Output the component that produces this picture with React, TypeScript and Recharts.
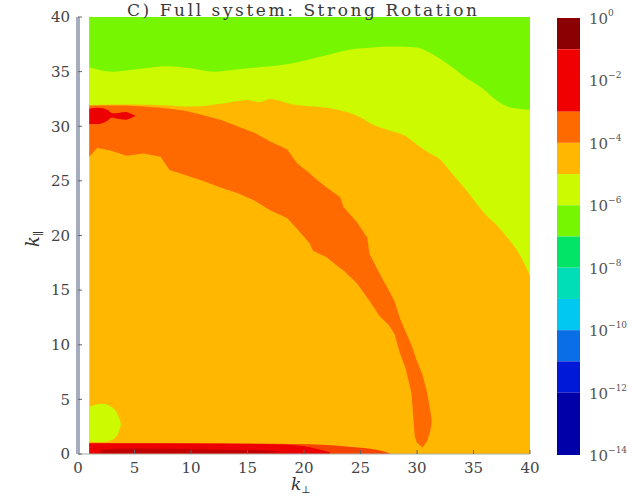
import { Area, Bar, BarChart, ComposedChart, XAxis, YAxis } from "recharts";

const kTicks = [0, 5, 10, 15, 20, 25, 30, 35, 40];
const cbTicks = [0, -2, -4, -6, -8, -10, -12, -14];

// whole k grid sits in the 10^-5..10^-4 level
const fillK = [1, 40];
const fillLow = [0, 0];
const fillHigh = [40, 40];

// lower edge of the 10^-6..10^-5 level
const yellowK = [1, 3, 5, 8, 10, 13, 15, 16, 17, 19, 21, 23, 25, 26, 27, 28, 29, 30, 31, 32, 33, 34, 35, 36, 37, 38, 39, 40];
const yellowLow = [31.9, 32.0, 32.0, 31.9, 31.8, 32.1, 32.4, 32.2, 32.5, 32.0, 31.8, 31.5, 30.8, 30.2, 29.8, 29.5, 29.1, 28.3, 27.6, 27.0, 25.8, 24.6, 23.3, 22.0, 21.0, 19.8, 18.4, 16.3];

// lower edge of the 10^-7..10^-6 level
const greenK = [1, 3, 5, 8, 10, 12, 14, 16, 18, 20, 22, 24, 26, 28, 30, 31, 32, 33, 34, 35, 36, 37, 38, 39, 40];
const greenLow = [35.4, 35.0, 35.2, 35.5, 35.3, 35.0, 35.2, 35.4, 35.6, 36.0, 36.5, 37.0, 37.2, 37.3, 37.2, 36.8, 36.2, 35.5, 34.7, 34.0, 33.3, 32.4, 31.8, 31.6, 31.5];

// 10^-4..10^-3 arc
const arcK = [1, 1.7, 2.8, 4.3, 5.8, 7.3, 8.1, 9.6, 11.1, 12.6, 14.1, 15.6, 17.0, 18.5, 19.4, 20.5, 20.8, 22.0, 23.2, 23.5, 24.7, 25.6, 25.8, 26.7, 27.5, 28.0, 28.5, 29.0, 29.5, 29.8, 30.0, 30.5, 30.9, 31.2, 31.3];
const arcLow = [27.2, 28.0, 27.8, 27.3, 27.5, 27.2, 26.0, 25.5, 25.0, 24.4, 23.9, 23.2, 22.3, 21.6, 20.6, 19.3, 18.6, 18.0, 17.0, 16.8, 15.6, 14.3, 14.0, 12.6, 11.8, 11.0, 9.2, 7.8, 5.6, 1.6, 1.0, 0.6, 1.2, 2.2, 2.9];
const arcHigh = [31.9, 31.9, 31.9, 31.9, 31.8, 31.7, 31.6, 31.4, 31.0, 30.6, 30.0, 29.4, 28.6, 27.9, 26.6, 25.7, 25.4, 24.4, 23.5, 22.6, 21.2, 19.8, 18.3, 16.5, 15.0, 14.0, 12.4, 11.2, 10.0, 9.1, 8.5, 7.2, 5.6, 3.8, 3.1];

// 10^-3..10^-1 spot, top left
const spotK = [1, 1.8, 2.6, 3.0, 3.4, 4.2, 4.8, 5.1];
const spotLow = [30.2, 30.2, 30.5, 30.8, 30.7, 30.6, 30.8, 30.95];
const spotHigh = [31.6, 31.7, 31.5, 31.2, 31.2, 31.3, 31.1, 30.96];

// 10^-6..10^-5 blob, bottom left
const blobK = [1, 1.5, 2.2, 2.8, 3.3, 3.6, 3.8];
const blobLow = [1.2, 1.1, 1.1, 1.2, 1.5, 2.0, 2.7];
const blobHigh = [4.3, 4.5, 4.6, 4.4, 4.0, 3.4, 2.8];

// k_par = 0 row
const tailK = [1, 10, 19, 22, 24, 26, 27, 27.6];
const tailHigh = [0.98, 0.98, 0.92, 0.82, 0.66, 0.46, 0.26, 0.05];
const stripK = [1, 10, 17, 19.5, 21, 22.3];
const stripHigh = [0.98, 0.95, 0.9, 0.78, 0.5, 0.15];
const coreK = [2, 5, 9, 13, 16, 18];
const coreLow = [0.08, 0.06, 0.06, 0.07, 0.1, 0.2];
const coreHigh = [0.4, 0.5, 0.45, 0.4, 0.35, 0.22];

// colour bar: decades spanned by each level, top to bottom
const cbSpan = [-1, -2, -1, -1, -1, -1, -1, -1, -1, -1, -1, -2];
const cbColors = ["#8b0000", "#f00000", "#ff6a00", "#ffb700", "#ccfa00", "#76f600", "#00e468", "#00deb8", "#00c8f0", "#0a6ee6", "#0018d8", "#0000a8"];

const AMBER = "#ffb700";
const ORANGE = "#ff6a00";
const RED = "#ec0000";
const YGREEN = "#ccfa00";
const GREEN = "#76f600";

const band = (k: number[], low: number[], high: number[] | number) =>
  k.map((x, i) => ({ k: x, v: [low[i], Array.isArray(high) ? high[i] : high] }));

const zeros = (k: number[]) => k.map(() => 0);

const regions = [
  { id: "fill", data: band(fillK, fillLow, fillHigh), color: AMBER, curve: "linear" },
  { id: "yellow", data: band(yellowK, yellowLow, 40), color: YGREEN, curve: "monotone" },
  { id: "green", data: band(greenK, greenLow, 40), color: GREEN, curve: "monotone" },
  { id: "arc", data: band(arcK, arcLow, arcHigh), color: ORANGE, curve: "linear" },
  { id: "spot", data: band(spotK, spotLow, spotHigh), color: RED, curve: "monotone" },
  { id: "blob", data: band(blobK, blobLow, blobHigh), color: YGREEN, curve: "monotone" },
  { id: "tail", data: band(tailK, zeros(tailK), tailHigh), color: "#f64400", curve: "monotone" },
  { id: "strip", data: band(stripK, zeros(stripK), stripHigh), color: RED, curve: "monotone" },
  { id: "core", data: band(coreK, coreLow, coreHigh), color: "#c20000", curve: "monotone" },
];

const cbRow: Record<string, number | string> = { c: "bar" };
cbSpan.forEach((s, i) => (cbRow[`l${i}`] = s));
const cbData = [cbRow];

const FONT = "DejaVu Serif";
const tickStyle = { fontFamily: FONT, fontSize: 15, fill: "#444" };

function PowTick({ x, y, payload }: any) {
  const v = payload.value as number;
  return (
    <text x={x} y={y} dy={6} fontFamily={FONT} fontSize={15} fill="#555">
      10
      <tspan dy={-8} fontSize={9}>
        {v === 0 ? "0" : `\u2212${Math.abs(v)}`}
      </tspan>
    </text>
  );
}

export default function App() {
  return (
    <div style={{ position: "fixed", left: 0, top: 0, width: 633, height: 497, background: "#fff" }}>
      <div style={{ position: "absolute", left: 0, top: 0 }}>
        <ComposedChart width={633} height={497} margin={{ top: 17, right: 103, bottom: 0, left: 0 }}>
          <XAxis
            dataKey="k"
            type="number"
            domain={[0, 40]}
            ticks={kTicks}
            allowDataOverflow
            height={43}
            tickSize={-4}
            tickMargin={12}
            tick={tickStyle}
            axisLine={{ stroke: "#a9b0a4", strokeWidth: 1 }}
            tickLine={{ stroke: "#666" }}
          />
          <XAxis
            xAxisId="top"
            orientation="top"
            type="number"
            domain={[0, 40]}
            ticks={kTicks}
            height={0}
            tickSize={-4}
            tick={false}
            axisLine={{ stroke: "#444", strokeWidth: 1.5 }}
            tickLine={{ stroke: "#666" }}
          />
          <YAxis
            type="number"
            domain={[0, 40]}
            ticks={kTicks}
            allowDataOverflow
            width={78}
            tickSize={-4}
            tickMargin={12}
            tick={tickStyle}
            axisLine={{ stroke: "#a4acbe", strokeWidth: 4 }}
            tickLine={{ stroke: "#666" }}
          />
          <YAxis
            yAxisId="right"
            orientation="right"
            type="number"
            domain={[0, 40]}
            ticks={kTicks}
            width={0}
            tickSize={-4}
            tick={false}
            axisLine={{ stroke: "#888", strokeWidth: 1 }}
            tickLine={{ stroke: "#666" }}
          />
          {regions.map((r) => (
            <Area
              key={r.id}
              data={r.data}
              dataKey="v"
              type={r.curve as any}
              fill={r.color}
              fillOpacity={1}
              stroke="none"
              dot={false}
              activeDot={false}
              isAnimationActive={false}
            />
          ))}
        </ComposedChart>
      </div>
      <div style={{ position: "absolute", left: 0, top: 0 }}>
        <BarChart width={633} height={497} data={cbData} margin={{ top: 18, right: 3, bottom: 42, left: 557 }} barCategoryGap={0}>
          <XAxis dataKey="c" hide />
          <YAxis
            orientation="right"
            type="number"
            domain={[-14, 0]}
            ticks={cbTicks}
            width={50}
            axisLine={false}
            tickLine={false}
            tickMargin={3}
            tick={<PowTick />}
          />
          {cbSpan.map((_, i) => (
            <Bar key={i} dataKey={`l${i}`} stackId="cb" fill={cbColors[i]} isAnimationActive={false} />
          ))}
        </BarChart>
      </div>
      <svg width={633} height={497} style={{ position: "absolute", left: 0, top: 0, pointerEvents: "none" }}>
        <text
          x={302}
          y={16}
          textAnchor="middle"
          textLength={350}
          lengthAdjust="spacing"
          fontFamily={FONT}
          fontSize={17}
          fill="#3a3a3a"
        >
          C) Full system: Strong Rotation
        </text>
        <text x={291} y={490} fontFamily={FONT} fontStyle="italic" fontSize={17} fill="#333">
          k
          <tspan dy={3} fontSize={10} fontStyle="normal">
            ⊥
          </tspan>
        </text>
        <text transform="translate(39,247) rotate(-90)" fontFamily={FONT} fontStyle="italic" fontSize={18} fill="#333">
          k
          <tspan dy={3} fontSize={11} fontStyle="normal">
            ∥
          </tspan>
        </text>
      </svg>
    </div>
  );
}
